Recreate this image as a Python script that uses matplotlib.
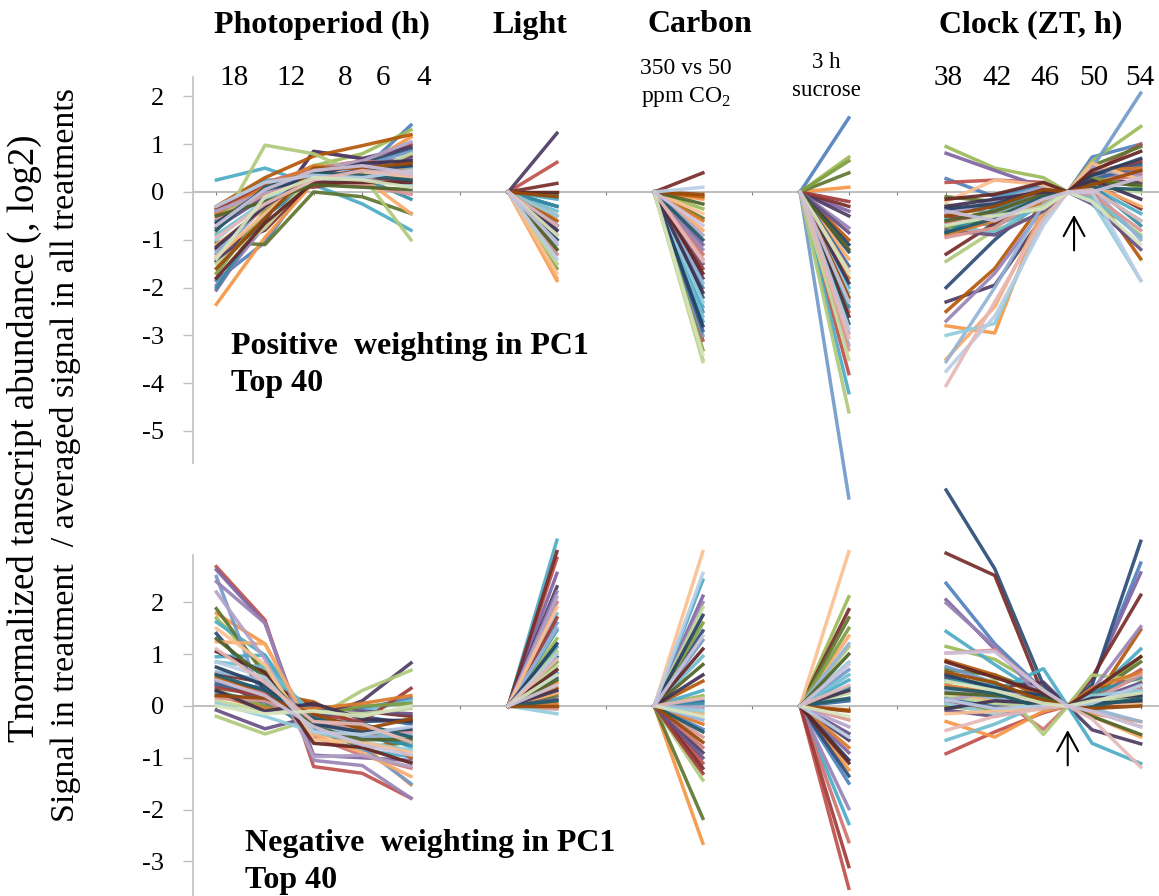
import numpy as np
import matplotlib.pyplot as plt

plt.rcParams['font.family'] = 'Liberation Serif'
plt.rcParams['axes.unicode_minus'] = False
plt.rcParams['mathtext.fontset'] = 'custom'
plt.rcParams['mathtext.rm'] = 'Liberation Serif'

# ---- data: 40 genes per panel, log2 ratio vs average ----
photo_labels = ['18', '12', '8', '6', '4']
clock_labels = ['38', '42', '46', '50', '54']

# positive weighting in PC1
top_photo = [
    [-1.85, -1.05, 0.35, 0.45, 1.40], [-1.40, -0.45, 0.30, 0.50, 1.00],
    [-0.50, 0.05, 0.55, 0.80, 1.30], [-2.05, -0.55, 0.85, 0.70, 0.65],
    [0.25, 0.50, 0.15, -0.25, -0.80], [-2.35, -0.95, 0.20, 0.55, 1.15],
    [-0.40, 0.10, 0.45, 0.60, 0.90], [-1.20, -0.80, 0.25, 0.40, 0.75],
    [-1.05, -1.10, 0.00, -0.10, -0.45], [-1.45, -0.60, 0.85, 0.70, 0.95],
    [-0.35, 0.25, 0.25, 0.20, 0.30], [-0.30, 0.30, 0.75, 0.97, 1.20],
    [-1.30, -0.30, 0.40, 0.55, 0.85], [-0.45, 0.20, 0.50, 0.65, 0.55],
    [-0.85, 0.98, 0.80, 0.35, -1.00], [-1.95, -0.70, 0.30, 0.45, 0.60],
    [-0.90, -0.20, 0.35, 0.60, 0.50], [-1.10, -0.35, 0.15, 0.30, -0.45],
    [-0.60, 0.00, 0.20, 0.40, 0.10], [-0.35, 0.15, 0.10, 0.25, 0.25],
    [-1.70, -0.40, 0.25, 0.35, 0.40], [-0.75, -0.10, 0.40, 0.50, 0.70],
    [-2.00, -0.50, 0.20, 0.30, -0.15], [-0.45, 0.10, 0.55, 0.45, 0.45],
    [-1.25, -0.25, 0.30, 0.55, 0.35], [-0.55, -0.05, 0.25, 0.15, -0.05],
    [-1.50, -0.75, 0.35, 0.35, 0.80], [-0.40, 0.00, 0.45, 0.65, 1.05],
    [-1.00, -0.15, 0.20, 0.25, 0.15], [-1.35, -0.45, 0.40, 0.40, 0.30],
    [-0.65, 0.05, 0.30, 0.45, 0.55], [-1.80, -0.65, 0.20, 0.20, 0.20],
    [-0.50, -0.20, 0.15, 0.10, 0.05], [-1.15, -0.30, 0.35, 0.60, 0.65],
    [-0.80, 0.10, 0.40, 0.35, 0.25], [-1.60, -0.55, 0.50, 0.50, 0.60],
    [-0.30, 0.20, 0.35, 0.30, 0.45], [-0.95, -0.25, 0.25, 0.45, 0.35],
    [-1.40, -0.10, 0.30, 0.25, 0.10], [-0.70, 0.05, 0.45, 0.55, 0.40],
]
top_light = [-0.5, 0.62, -0.1, -1.0, -0.15, -1.85, -0.3, 0.18, -0.05, 1.23,
             -0.1, -0.6, -0.8, -1.2, -1.5, -1.3, -0.4, -1.8, -0.7, -0.9,
             -1.6, -1.0, -0.3, -0.5, -1.1, -1.3, -1.5, -0.8, -0.5, -1.7,
             -0.7, 0.0, -1.2, -0.8, -1.0, -0.1, -1.4, -0.7, -0.9, -1.05]
top_co2 = [-2.5, -3.1, -0.35, -1.1, -2.7, -0.15, -2.2, 0.4, -0.55, -1.8,
           -2.4, -0.1, -3.0, -1.3, -3.5, -1.2, -2.6, -0.8, -2.9, -1.6,
           -3.3, -1.5, -2.0, -0.6, -1.9, -1.4, -3.55, -0.9, -2.3, -0.45,
           -2.8, -1.7, -0.25, -2.1, -1.0, -0.05, 0.1, -1.45, -3.4, -0.7]
top_sucrose = [1.55, -3.8, 0.73, -0.4, -4.2, 0.1, -1.25, -0.3, 0.4, -0.5,
               -2.0, -1.0, -6.4, -2.5, -4.6, -0.75, -2.25, -1.4, -1.55, -0.2,
               0.65, -0.85, -2.4, -1.8, -3.2, -3.3, -3.5, -2.95, -2.1, -1.65,
               -1.1, -2.6, -1.2, -1.9, -2.75, -2.2, -2.85, -3.05, -1.7, -2.3]
top_clock = [  # ZT 38, 42, 46, 50, 54 (ZT 48 = reference, 0)
    [0.28, -0.10, 0.15, 0.73, 1.00], [0.20, 0.25, 0.20, 0.40, 1.00],
    [0.95, 0.50, 0.30, 0.65, 1.37], [0.81, 0.45, 0.10, 0.30, 0.45],
    [-0.60, -0.70, -0.30, 0.05, -0.60], [-2.80, -2.95, -0.30, 0.60, 0.25],
    [-2.00, -1.00, -0.15, 0.35, 0.60], [-1.30, -0.65, -0.05, 0.20, -0.35],
    [-0.10, -0.20, 0.05, 0.55, 0.95], [-2.30, -1.95, -0.50, 0.25, 0.20],
    [-0.55, -0.15, 0.10, 0.10, -0.45], [-2.50, -1.60, -0.20, 0.05, -1.40],
    [-0.30, -0.45, -0.10, 0.50, 2.07], [-0.65, -0.40, 0.00, 0.20, 0.35],
    [-1.45, -0.80, -0.45, -0.15, -0.90], [-2.70, -1.70, -0.35, 0.30, 0.40],
    [-0.70, -0.85, -0.25, -0.10, -0.95], [-3.50, -2.40, -0.40, 0.15, -0.30],
    [-0.40, -0.30, 0.05, 0.25, 0.55], [-0.50, -0.60, -0.20, 0.40, 0.65],
    [-0.75, -0.50, -0.15, 0.30, 0.10], [-0.80, -0.90, -0.40, -0.25, -1.20],
    [-0.85, -0.35, 0.05, 0.15, -0.70], [-0.90, -0.60, -0.20, 0.45, 0.50],
    [-3.55, -2.00, -0.25, 0.10, -1.00], [-0.95, -0.75, -0.10, -0.05, -0.80],
    [-0.25, -0.55, -0.30, 0.10, 0.00], [-0.45, -0.20, 0.10, 0.50, 0.30],
    [-3.00, -2.75, -0.60, -0.20, -1.85], [-0.20, 0.25, 0.15, 0.60, 0.25],
    [-0.35, -0.25, 0.05, 0.35, 0.70], [-0.15, -0.05, 0.20, 0.45, 0.85],
    [-0.60, -0.40, -0.05, 0.20, 0.15], [-0.30, -0.15, 0.00, 0.25, -0.15],
    [-0.85, -0.55, -0.10, 0.10, 0.05], [-0.50, -0.30, 0.05, 0.15, 0.45],
    [-3.75, -2.60, -0.70, 0.00, -1.85], [-4.05, -2.30, -0.55, 0.05, -0.60],
    [-0.70, -0.50, -0.35, -0.20, -1.10], [-0.40, -0.60, -0.15, 0.00, 0.30],
]

# negative weighting in PC1
bot_photo = [
    [0.45, 0.35, -0.10, -0.05, 0.15], [2.69, 1.66, -1.17, -1.30, -1.78],
    [1.70, 0.70, -0.20, -0.55, -0.60], [2.63, 1.60, -0.95, -1.00, -1.05],
    [1.62, 0.98, -0.60, -0.85, -0.98], [1.79, 1.20, -0.50, -0.75, -1.52],
    [1.40, 0.30, -0.40, -0.30, -0.27], [0.62, 0.45, 0.00, -0.10, -0.20],
    [1.88, 0.60, -0.45, -0.80, -0.70], [0.50, 0.05, -0.25, 0.10, 0.83],
    [0.95, 0.98, -0.35, -0.40, -0.80], [0.55, 0.25, 0.08, -0.40, -1.00],
    [2.50, 0.00, -0.30, -0.80, -1.50], [0.40, 0.25, -0.60, -0.95, -1.20],
    [-0.20, -0.54, -0.25, 0.30, 0.69], [2.40, 1.60, -1.05, -1.15, -1.78],
    [0.85, 0.75, -0.15, -0.10, 0.10], [1.24, 1.20, -0.55, -0.90, -1.36],
    [0.42, 0.15, -0.05, -0.20, -0.35], [0.35, 0.20, -0.15, -0.30, 0.34],
    [0.30, 0.00, -0.20, 0.00, 0.05], [-0.08, -0.44, -0.20, -0.10, -0.15],
    [0.25, 0.10, -0.45, -0.60, -0.75], [0.20, -0.05, -0.05, 0.05, 0.20],
    [0.66, 0.50, -0.30, -0.60, -0.55], [0.15, 0.10, -0.30, -0.45, -0.50],
    [0.10, -0.10, -0.10, -0.15, -0.05], [2.20, 0.90, -0.98, -0.95, -1.17],
    [0.05, -0.20, -0.50, -0.70, -0.85], [1.50, 0.80, -0.65, -0.70, -0.90],
    [0.75, 0.40, -0.35, -0.50, -0.45], [1.05, 0.65, -0.72, -0.80, -1.10],
    [1.30, 0.55, -0.40, -0.65, -0.65], [0.30, -0.10, 0.05, -0.25, -0.30],
    [0.60, 0.30, -0.25, -0.35, -0.60], [0.20, 0.15, -0.15, -0.45, -0.25],
    [0.85, 0.55, -0.50, -0.55, -0.40], [1.10, 0.45, -0.30, -0.35, -0.70],
    [0.00, -0.15, -0.10, -0.20, 0.00], [0.50, 0.20, -0.40, -0.75, -0.95],
]
bot_light = [0.64, 2.85, 1.3, 2.56, 3.2, 0.45, 0.95, 2.98, 0.2, 2.3,
             1.14, 0.35, 1.6, 2.0, 1.05, 2.2, 1.78, 0.25, 0.55, 1.7,
             0.85, 0.13, 1.46, 0.05, 1.5, -0.06, 0.77, 2.1, -0.15, 1.9,
             1.2, 0.7, 0.5, 0.3, 0.1, 0.0, 1.0, 0.9, 0.6, 0.4]
bot_co2 = [-0.45, -1.1, 0.2, 2.12, 2.43, -2.65, 1.45, -1.2, -2.17, -0.9,
           0.3, 0.48, 1.27, -0.8, -1.43, 2.0, 0.96, -0.15, 0.1, -1.3,
           1.6, -1.0, 0.05, -0.35, -0.27, -0.6, 1.9, -0.03, -0.1, 2.98,
           1.75, 1.1, 0.8, 0.6, -0.5, -0.7, 2.56, 0.15, -0.2, 1.35]
bot_sucrose = [-1.49, -3.52, 2.11, -0.9, -2.27, -1.23, -1.35, 1.86, 1.7, -0.66,
               0.5, -0.08, 0.7, -2.62, 1.14, -1.98, 0.6, 1.35, 0.1, -3.1,
               1.5, -0.53, 0.36, -0.8, 1.2, -0.27, 0.25, -0.4, 0.85, 2.98,
               -1.04, -1.1, 1.0, 0.3, 0.15, -0.1, -0.6, 0.4, -0.2, 0.8]
bot_clock = [
    [2.37, 1.20, 0.30, 0.45, 2.76], [-0.92, -0.50, -0.13, 0.15, 0.70],
    [1.15, 0.90, 0.35, 0.15, 0.95], [2.05, 1.10, 0.25, 0.50, 2.57],
    [1.44, 0.80, 0.20, 0.20, 1.10], [-0.30, -0.60, -0.10, -0.15, -0.30],
    [4.17, 2.65, 0.40, 0.40, 3.18], [2.95, 2.52, 0.20, 0.55, 2.14],
    [0.70, 0.60, 0.25, 0.20, 0.85], [0.55, 0.35, 0.46, -0.46, -0.73],
    [0.62, 0.30, 0.72, -0.72, -1.11], [0.88, 0.60, 0.15, 0.05, 1.47],
    [0.76, 0.45, 0.05, -0.10, 0.30], [0.36, 0.20, -0.45, 0.10, 0.35],
    [0.45, 0.50, -0.55, 0.60, 0.50], [1.99, 1.15, 0.10, 0.30, 1.53],
    [-0.66, -0.35, 0.05, -0.05, 0.05], [0.23, 0.10, 0.20, -0.20, -0.60],
    [0.15, 0.00, 0.10, 0.05, 0.20], [0.08, -0.05, 0.05, -0.05, 0.10],
    [0.00, -0.10, -0.05, 0.00, 0.25], [-0.08, -0.20, 0.00, 0.10, 0.45],
    [0.50, 0.40, 0.15, 0.25, 0.55], [0.40, 0.25, 0.10, 0.35, 0.65],
    [0.30, 0.15, 0.05, -0.05, -0.30], [1.02, 1.08, 0.30, 0.10, 0.60],
    [0.20, 0.05, 0.00, 0.10, 0.15], [0.10, 0.30, 0.15, -0.10, -0.40],
    [0.05, -0.15, 0.10, 0.20, 0.30], [-0.15, -0.10, -0.05, 0.05, 0.05],
    [0.60, 0.35, 0.20, 0.05, 0.10], [0.85, 0.55, 0.25, 0.30, 0.95],
    [0.25, 0.20, 0.15, -0.20, -0.55], [-0.05, 0.10, 0.05, 0.15, 0.20],
    [0.35, 0.25, -0.05, 0.00, 0.15], [0.65, 0.45, 0.10, -0.05, 0.00],
    [0.12, -0.05, 0.00, 0.05, 0.40], [-0.47, -0.20, -0.05, -0.25, -1.18],
    [0.48, 0.30, 0.05, 0.10, 0.25], [1.02, 1.05, 0.30, -0.10, -0.40],
]

# excel-like series colours
palette = ['#4F81BD', '#C0504D', '#9BBB59', '#8064A2', '#4BACC6', '#F79646',
           '#2C4D75', '#772C2A', '#5F7530', '#4D3B62', '#4BACC6', '#B65708',
           '#729ACA', '#CD7371', '#AFC97A', '#9983B5', '#6FBDD1', '#F9AB6B',
           '#3A679C', '#9F3B38', '#7E9D40', '#664F83', '#358DA4', '#DA7A2A',
           '#95B3D7', '#D99694', '#C3D69B', '#B3A2C7', '#93CDDD', '#FAC090',
           '#254061', '#632523', '#4F6228', '#3F3151', '#215968', '#984807',
           '#B9CDE5', '#E6B9B8', '#D7E4BD', '#CCC1DA']

# category positions on the shared x axis (blank slots between groups)
x_photo = [0, 1, 2, 3, 4]
x_light = [6, 7]
x_co2 = [9, 10]
x_suc = [12, 13]
x_clock = [15, 16, 17, 17.5, 18, 19]

W, H = 1159, 896
fig = plt.figure(figsize=(W / 100, H / 100), dpi=100)


def px_axes(left, top, right, bottom):
    return fig.add_axes([left / W, 1 - bottom / H, (right - left) / W, (bottom - top) / H])


def ftext(x, y, s, **kw):
    kw.setdefault('ha', 'center')
    kw.setdefault('va', 'center')
    fig.text(x / W, 1 - y / H, s, **kw)


def draw_panel(ax, photo, light, co2, suc, clock, ylim, yticks, arrow_x, arrow_y):
    ax.set_xlim(-0.48, 19.376)
    ax.set_ylim(*ylim)
    for i in range(len(photo)):
        c = palette[i % len(palette)]
        kw = dict(color=c, lw=2.5, alpha=0.92, clip_on=False, solid_joinstyle='round')
        ax.plot(x_photo, photo[i], **kw)
        ax.plot(x_light, [0, light[i]], **kw)
        ax.plot(x_co2, [0, co2[i]], **kw)
        ax.plot(x_suc, [0, suc[i]], **kw)
        cl = clock[i]
        ax.plot(x_clock, [cl[0], cl[1], cl[2], 0, cl[3], cl[4]], **kw)
    for s in ['top', 'right']:
        ax.spines[s].set_visible(False)
    ax.spines['bottom'].set_position(('data', 0))
    ax.spines['bottom'].set_color('#C0C0C0')
    ax.spines['bottom'].set_linewidth(1.5)
    ax.spines['bottom'].set_zorder(0)
    ax.spines['left'].set_color('#C0C0C0')
    ax.spines['left'].set_linewidth(1.2)
    ax.set_xticks(range(0, 20))
    ax.tick_params(axis='x', length=2, color='#808080', labelbottom=False)
    ax.set_yticks(yticks)
    ax.tick_params(axis='y', length=7, width=1, color='#C0C0C0', labelsize=19, pad=14)
    ax.patch.set_visible(False)
    ax.annotate('', xy=(arrow_x, arrow_y[1]), xytext=(arrow_x, arrow_y[0]),
                arrowprops=dict(arrowstyle='->, head_length=0.55, head_width=0.3',
                                lw=1.5, color='black', mutation_scale=25))


ax_top = px_axes(193, 77, 1159, 463)
draw_panel(ax_top, top_photo, top_light, top_co2, top_sucrose, top_clock,
           (-5.67, 2.406), range(-5, 3), 17.63, (-1.28, -0.42))

ax_bot = px_axes(193, 555, 1159, 896)
draw_panel(ax_bot, bot_photo, bot_light, bot_co2, bot_sucrose, bot_clock,
           (-3.668, 2.915), range(-3, 3), 17.5, (-1.20, -0.41))

# headers
bold = dict(fontsize=23, fontweight='bold')
ftext(322, 25, 'Photoperiod (h)', **bold)
ftext(530, 25, 'Light', **bold)
ftext(700, 25, 'Carbon', **bold)
ftext(1031, 25, 'Clock (ZT, h)', **bold)
for lab, xp in zip(photo_labels, [234, 291, 345, 383, 424]):
    ftext(xp, 78, lab, fontsize=21)
for lab, xp in zip(clock_labels, [948, 997, 1045, 1094, 1140]):
    ftext(xp, 78, lab, fontsize=21)
ftext(686, 68, '350 vs 50', fontsize=17)
ftext(686, 97, 'ppm CO$_2$', fontsize=17)
ftext(826, 62, '3 h', fontsize=16.5)
ftext(826, 90, 'sucrose', fontsize=16.5)

ftext(231, 346, 'Positive  weighting in PC1', ha='left', **bold)
ftext(231, 383, 'Top 40', ha='left', **bold)
ftext(245, 843, 'Negative  weighting in PC1', ha='left', **bold)
ftext(245, 880, 'Top 40', ha='left', **bold)

ftext(24, 438, 'Tnormalized tanscript abundance (, log2)', rotation=90, fontsize=26.5)
ftext(66, 455, 'Signal in treatment  / averaged signal in all treatments', rotation=90, fontsize=24.5)

plt.savefig('out.png', dpi=100)
